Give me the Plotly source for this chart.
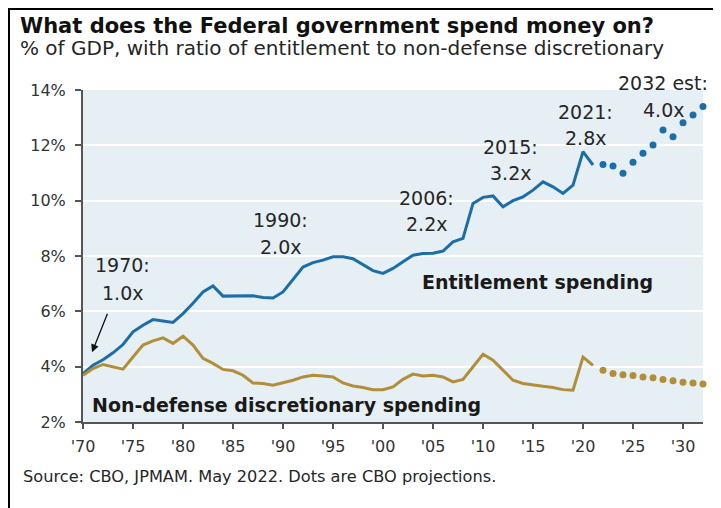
import plotly.graph_objects as go

# ---------------- data ----------------
hist_years = list(range(1970, 2022))
proj_years = list(range(2022, 2033))

entitlement_hist = [3.75, 4.05, 4.25, 4.5, 4.8, 5.26, 5.5, 5.7, 5.65, 5.6,
                    5.92, 6.29, 6.7, 6.92, 6.55, 6.55, 6.56, 6.56, 6.5, 6.48,
                    6.7, 7.13, 7.6, 7.76, 7.85, 7.97, 7.97, 7.9, 7.67, 7.47,
                    7.37, 7.55, 7.79, 8.03, 8.09, 8.1, 8.18, 8.51, 8.64, 9.9,
                    10.12, 10.17, 9.78, 10.0, 10.14, 10.38, 10.68, 10.5, 10.26, 10.56,
                    11.77, 11.29]
entitlement_proj = [11.31, 11.25, 10.99, 11.39, 11.71, 12.01, 12.55, 12.31, 12.82, 13.1, 13.4]

nondef_hist = [3.69, 3.93, 4.08, 3.99, 3.91, 4.35, 4.78, 4.93, 5.04, 4.84,
               5.1, 4.78, 4.3, 4.12, 3.9, 3.85, 3.69, 3.41, 3.39, 3.33,
               3.41, 3.51, 3.63, 3.69, 3.66, 3.63, 3.41, 3.3, 3.25, 3.17,
               3.17, 3.27, 3.54, 3.73, 3.66, 3.69, 3.63, 3.45, 3.54, 3.99,
               4.45, 4.23, 3.87, 3.51, 3.39, 3.33, 3.29, 3.25, 3.17, 3.15,
               4.35, 4.05]
nondef_proj = [3.87, 3.75, 3.71, 3.68, 3.63, 3.6, 3.54, 3.49, 3.44, 3.41, 3.37]

x_tick_vals = list(range(1970, 2031, 5))
x_tick_text = ["'70", "'75", "'80", "'85", "'90", "'95", "'00", "'05", "'10", "'15", "'20", "'25", "'30"]
y_tick_vals = [2, 4, 6, 8, 10, 12, 14]
y_tick_text = ["2%", "4%", "6%", "8%", "10%", "12%", "14%"]

ratio_labels = [
    ("1970:", "1.0x"),
    ("1990:", "2.0x"),
    ("2006:", "2.2x"),
    ("2015:", "3.2x"),
    ("2021:", "2.8x"),
    ("2032 est:", "4.0x"),
]

title = "What does the Federal government spend money on?"
subtitle = "% of GDP, with ratio of entitlement to non-defense discretionary"
source = "Source: CBO, JPMAM. May 2022. Dots are CBO projections."

# ---------------- style ----------------
BLUE = "#1c6ea9"
GOLD = "#b28e3a"
BG = "#e6eff3"
TXT = "#262626"
FONT = "DejaVu Sans"

OFF = 8  # page body margin
W, H = 721 - OFF, 508 - OFF
L, T = 83 - OFF, 90 - OFF
R = W - (703 - OFF)
B = H - (422 - OFF)
PW, PH = W - L - R, H - T - B


def px_x(px):
    return (px - OFF - L) / PW


def px_y(py):
    return (H - B - (py - OFF)) / PH


fig = go.Figure()
fig.add_trace(go.Scatter(x=hist_years, y=entitlement_hist, mode="lines",
                         line=dict(color=BLUE, width=3), hoverinfo="skip"))
fig.add_trace(go.Scatter(x=proj_years, y=entitlement_proj, mode="markers",
                         marker=dict(color=BLUE, size=7), cliponaxis=False, hoverinfo="skip"))
fig.add_trace(go.Scatter(x=hist_years, y=nondef_hist, mode="lines",
                         line=dict(color=GOLD, width=3), hoverinfo="skip"))
fig.add_trace(go.Scatter(x=proj_years, y=nondef_proj, mode="markers",
                         marker=dict(color=GOLD, size=7), cliponaxis=False, hoverinfo="skip"))

annotations = []
annotations.append(dict(text="<b>" + title + "</b>", xref="paper", yref="paper",
                        x=px_x(18), y=px_y(26), xanchor="left", yanchor="middle",
                        showarrow=False, font=dict(family=FONT, size=21, color="#111111")))
annotations.append(dict(text=subtitle, xref="paper", yref="paper",
                        x=px_x(18), y=px_y(48), xanchor="left", yanchor="middle",
                        showarrow=False, font=dict(family=FONT, size=20, color=TXT)))
annotations.append(dict(text=source, xref="paper", yref="paper",
                        x=px_x(21), y=px_y(476), xanchor="left", yanchor="middle",
                        showarrow=False, font=dict(family=FONT, size=16.2, color=TXT)))

# ratio label positions: (year, value of first line, value of second line)
label_pos = [(1973.9, 7.67, 6.66), (1989.7, 9.30, 8.32), (2004.3, 10.09, 9.15),
             (2012.7, 11.94, 11.0), (2020.2, 13.2, 12.26), (2028.0, 14.25, 13.28)]
for (l1, l2), (xx, y1, y2) in zip(ratio_labels, label_pos):
    for txt, yy in ((l1, y1), (l2, y2)):
        if yy > 14:
            # above the plotting area -> paper coordinates
            annotations.append(dict(text=txt, x=(xx - 1970) / 62, y=1 + (yy - 14) / 12,
                                    xref="paper", yref="paper",
                                    xanchor="center", yanchor="middle", showarrow=False,
                                    font=dict(family=FONT, size=19, color=TXT)))
        else:
            annotations.append(dict(text=txt, x=xx, y=yy, xref="x", yref="y",
                                    xanchor="center", yanchor="middle", showarrow=False,
                                    font=dict(family=FONT, size=19, color=TXT)))

annotations.append(dict(text="<b>Entitlement spending</b>", x=2015.4, y=7.07, xref="x", yref="y",
                        xanchor="center", yanchor="middle", showarrow=False,
                        font=dict(family=FONT, size=19, color="#1a1a1a")))
annotations.append(dict(text="<b>Non-defense discretionary spending</b>", x=1990.3, y=2.61,
                        xref="x", yref="y", xanchor="center", yanchor="middle", showarrow=False,
                        font=dict(family=FONT, size=19, color="#1a1a1a")))

annotations.append(dict(text="", x=1970.9, y=4.52, ax=1972.5, ay=5.97, xref="x", yref="y",
                        axref="x", ayref="y", showarrow=True, arrowhead=2, arrowsize=1.2,
                        arrowwidth=1.3, arrowcolor="#111111"))

shapes = [
    dict(type="line", xref="paper", yref="paper", x0=px_x(9), x1=px_x(9),
         y0=px_y(7), y1=px_y(510), line=dict(color="black", width=2), layer="above"),
    dict(type="line", xref="paper", yref="paper", x0=px_x(8), x1=px_x(725),
         y0=px_y(9), y1=px_y(9), line=dict(color="black", width=2), layer="above"),
]

fig.update_layout(
    width=W, height=H,
    margin=dict(l=L, r=R, t=T, b=B, pad=0),
    paper_bgcolor="white", plot_bgcolor=BG,
    showlegend=False,
    annotations=annotations,
    shapes=shapes,
    font=dict(family=FONT, color="#333333"),
    xaxis=dict(range=[1970, 2032], tickvals=x_tick_vals, ticktext=x_tick_text,
               showgrid=False, zeroline=False, showline=True, linecolor="#555555", linewidth=2,
               ticks="outside", ticklen=5, tickwidth=2, tickcolor="#555555",
               tickfont=dict(family=FONT, size=16, color="#333333"), ticklabelstandoff=4),
    yaxis=dict(range=[2, 14], tickvals=y_tick_vals, ticktext=y_tick_text,
               showgrid=True, gridcolor="white", gridwidth=1.5, zeroline=False,
               showline=True, linecolor="#555555", linewidth=2,
               ticks="outside", ticklen=6, tickwidth=2, tickcolor="#555555",
               tickfont=dict(family=FONT, size=16, color="#333333"), ticklabelstandoff=6),
)

fig.write_html("out.html")
